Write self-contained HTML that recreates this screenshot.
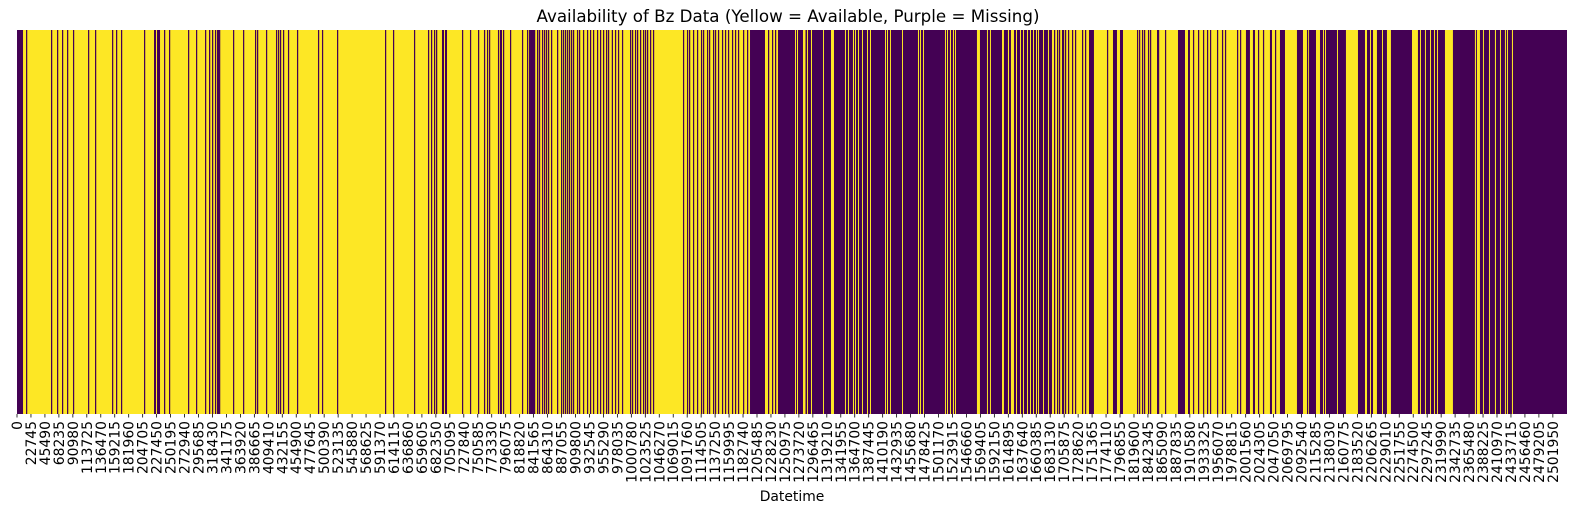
<!DOCTYPE html>
<html><head><meta charset="utf-8">
<style>
html,body{margin:0;padding:0;background:#fff;}
svg{display:block;font-family:"DejaVu Sans","Liberation Sans",sans-serif;}
</style></head>
<body>
<svg id="chart" width="1576" height="516" viewBox="0 0 1576 516" xmlns="http://www.w3.org/2000/svg">
<text x="788" y="22" text-anchor="middle" font-size="16.7" fill="#000">Availability of Bz Data (Yellow = Available, Purple = Missing)</text>
<g id="plot"></g>
<g id="xaxis"></g>
<text x="792" y="501" text-anchor="middle" font-size="13.9" fill="#000">Datetime</text>
</svg>
<script>
// total number of rows (thousands)
const totalRowsK = 2525;
const tickStep = 22745;
const tickCount = 111;
// single missing rows/short gaps: start (thousand rows)
const missingLineStartsK = [14.7,55.4,65.2,73.3,81.5,91.2,115.7,127.1,154.8,161.3,169.4,206.9,239.5,247.6,278.6,291.6,306.3,312.8,317.7,322.5,329.1,351.9,368.2,387.7,391.0,405.6,421.9,425.2,428.4,433.3,441.4,456.1,490.3,496.8,521.3,599.5,612.5,646.7,669.5,674.4,679.3,682.6,724.9,737.9,751.0,760.7,765.6,768.9,783.5,791.7,803.1,822.6,830.8,837.3,840.6,847.1,
838.9,842.2,847.1,850.3,855.2,858.5,861.7,865.0,869.9,879.7,886.2,889.4,892.7,896.0,899.2,902.5,905.7,912.2,915.5,922.0,928.5,933.4,938.3,944.8,949.7,954.6,959.5,962.7,968.9,974.1,979.0,985.5,998.6,1001.8,1006.7,1010.0,1014.9,1019.8,1023.0,1026.3,1031.2,1036.0,1084.9,1091.4,1094.7,1101.2,1107.7,1114.2,1117.5,1124.0,1127.3,1133.8,1137.0,1141.9,1148.4,1153.3,1158.2,1164.7,1169.6,1174.5,1182.7,1189.2,1223.4,1229.9,1234.8,
1689.3,1694.2,1697.4,1702.3,1703.9,1707.2,1712.1,1718.6,1723.5,1734.9,1739.8,1775.6,1824.5,1827.8,1832.6,1835.9,1842.4,1845.7,1857.1,1858.7,1870.1,1915.7,1923.9,1932.0,1938.5,1943.4,1954.8,1962.9,1967.8,1987.4,1992.3,2021.6,2029.7,2049.3,2101.4];
const missingLineLenK = 2.0;
// longer missing runs: starts and ends (thousand rows)
const missingRunStartsK = [0,223.2,228.1,325.8,692.3,697.2,786.8,834.0,1194.1,1239.7,
1269.0,1272.3,1284.5,1288.5,1295.1,1314.6,1330.9,1350.4,1355.3,1363.5,1366.7,1371.6,1378.1,1386.3,1391.2,1415.6,1418.9,1423.7,1443.3,1469.4,1472.6,1477.5,1513.3,1516.6,1521.5,1526.4,1529.6,1568.7,1581.7,1586.6,1607.8,1616.0,1624.1,1629.0,1635.5,1640.4,1646.9,1651.8,1656.7,1661.6,1664.8,1673.0,1681.1,
1746.3,1785.4,1796.8,1891.3,1907.6,2002.0,2013.4,2041.1,2057.4,2085.1,
2104.7,2122.6,2129.1,2132.4,2151.9,2184.5,2199.2,2205.7,2215.4,2225.2,2238.2,2282.2,2287.1,2295.2,2303.4,2309.9,2314.8,2339.2,2376.7,2383.2,2389.7,2399.5,2409.3,2417.4,2425.5,2428.8,2437.0];
const missingRunEndsK = [9.8,226.4,233.0,329.1,695.6,700.5,790.1,837.3,1218.5,1267.4,
1270.6,1280.4,1286.9,1293.4,1313.0,1326.0,1348.8,1353.7,1361.8,1365.1,1370.0,1376.5,1384.7,1389.5,1414.0,1417.2,1422.1,1441.7,1467.7,1471.0,1475.9,1511.7,1515.0,1519.8,1524.7,1528.0,1563.8,1580.1,1585.0,1604.6,1614.3,1619.2,1627.4,1633.9,1638.8,1645.3,1650.2,1655.1,1660.0,1663.2,1671.4,1679.5,1686.0,
1754.4,1791.9,1801.7,1902.7,1910.8,2008.5,2016.7,2044.4,2065.6,2094.9,
2116.1,2127.5,2130.8,2150.3,2164.9,2195.9,2204.1,2209.0,2223.6,2231.7,2272.5,2285.5,2293.6,2301.8,2308.3,2313.2,2326.2,2375.0,2378.3,2388.1,2397.9,2407.6,2415.8,2423.9,2427.2,2435.3,2525.0];

const NS = 'http://www.w3.org/2000/svg';
const X0 = 17, X1 = 1567, Y0 = 30, Y1 = 414;
function xK(k){ return X0 + (k/totalRowsK)*(X1-X0); }
function xRow(r){ return xK(r/1000); }
const plot = document.getElementById('plot');
const bg = document.createElementNS(NS,'rect');


bg.setAttribute('x', X0); bg.setAttribute('y', Y0);
bg.setAttribute('width', X1-X0); bg.setAttribute('height', Y1-Y0);
bg.setAttribute('fill', '#fde725');
plot.appendChild(bg);
function addMissing(s,e){
  const r = document.createElementNS(NS,'rect');
  
  
  const a = xK(s), b = Math.max(xK(e), a+0.9);
  r.setAttribute('x', a); r.setAttribute('y', Y0);
  r.setAttribute('width', b-a); r.setAttribute('height', Y1-Y0);
  r.setAttribute('fill', '#440154');
  plot.appendChild(r);
}
missingLineStartsK.forEach(s => addMissing(s, s+missingLineLenK));
missingRunStartsK.forEach((s,i) => addMissing(s, missingRunEndsK[i]));

const ax = document.getElementById('xaxis');
for(let i=0;i<tickCount;i++){
  const v = i*tickStep;
  const x = xRow(v);
  const t = document.createElementNS(NS,'line');
  
  
  t.setAttribute('x1', x); t.setAttribute('x2', x);
  t.setAttribute('y1', Y1); t.setAttribute('y2', Y1+3.5);
  t.setAttribute('stroke', '#000'); t.setAttribute('stroke-width', '0.8');
  ax.appendChild(t);
  const lb = document.createElementNS(NS,'text');
  
  
  lb.setAttribute('transform', 'translate(' + (x+5) + ',' + (Y1+7) + ') rotate(-90)');
  lb.setAttribute('text-anchor', 'end');
  lb.setAttribute('font-size', '13.9');
  lb.setAttribute('fill', '#000');
  lb.textContent = String(v);
  ax.appendChild(lb);
}
</script>
</body></html>
